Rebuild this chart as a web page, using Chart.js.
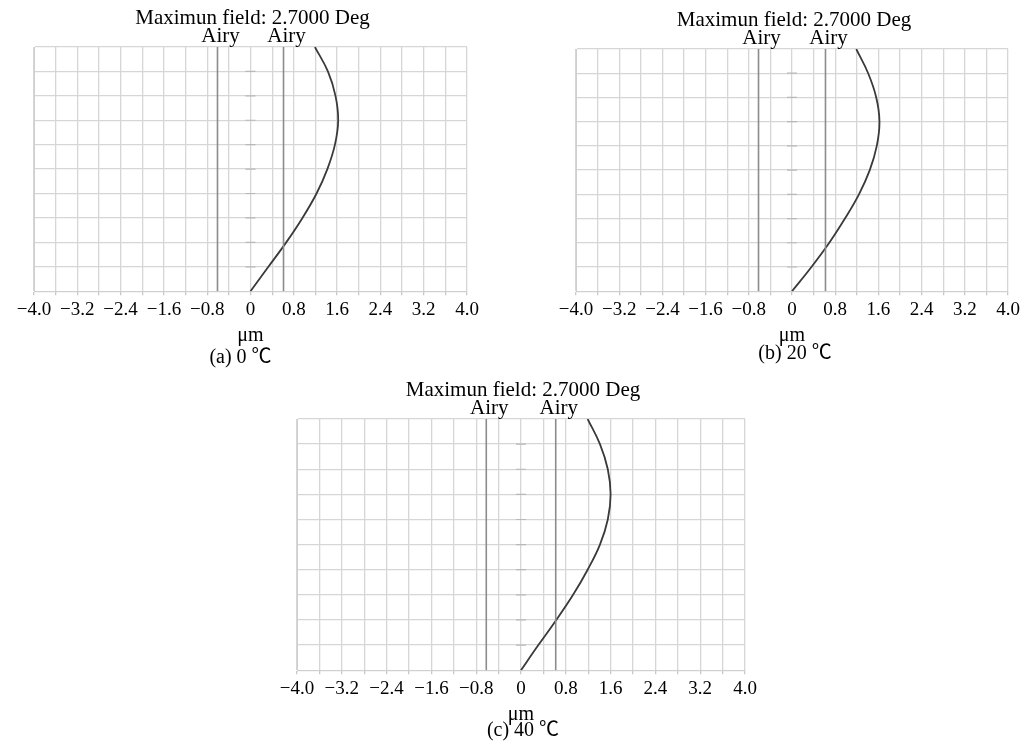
<!DOCTYPE html>
<html>
<head>
<meta charset="utf-8">
<script src="https://cdn.jsdelivr.net/npm/chart.js@4.4.1/dist/chart.umd.min.js"></script>
<style>
  body { margin: 0; background: #fff; }
  canvas { position: absolute; }
</style>
</head>
<body>
<canvas id="chartA" width="500" height="372" style="left:0px;top:0px"></canvas>
<canvas id="chartB" width="491" height="372" style="left:541px;top:0px"></canvas>
<canvas id="chartC" width="520" height="380" style="left:262px;top:372px"></canvas>
<script>
// relative field (y) and focus shift in um (x)
const fieldY = [0, 0.1, 0.2, 0.3, 0.4, 0.5, 0.6, 0.7, 0.8, 0.9, 1.0];
const curveA = [0, 0.33, 0.66, 0.96, 1.22, 1.42, 1.56, 1.62, 1.57, 1.43, 1.19];
const curveB = [0, 0.36, 0.69, 0.98, 1.24, 1.44, 1.57, 1.62, 1.56, 1.41, 1.19];
const curveC = [0, 0.31, 0.63, 0.93, 1.19, 1.41, 1.55, 1.60, 1.55, 1.41, 1.19];
// airy disk radius (um)
const airyA = 0.61;
const airyB = 0.62;
const airyC = 0.62;
// small marks on the zero line
const zeroMarks = [0.1, 0.2, 0.3, 0.4, 0.5, 0.6, 0.7, 0.8, 0.9];
const titleText = "Maximun field: 2.7000 Deg";
const airyLabel = "Airy";
const axisLabel = "μm";
const captions = ["(a) 0 ℃", "(b) 20 ℃", "(c) 40 ℃"];

const serif = "'Liberation Serif', 'Times New Roman', serif";
const capFont = "'Liberation Serif', 'Noto Sans CJK SC', serif";

function fmtTick(v) {
  v = Math.round(v * 10) / 10;
  if (v === 0) return "0";
  return (v < 0 ? "\u2212" : "") + Math.abs(v).toFixed(1);
}

// draws title, Airy labels and caption
const textPlugin = {
  id: "texts",
  afterDraw(chart, args, opts) {
    const { ctx, chartArea, scales } = chart;
    const x = scales.x;
    ctx.save();
    ctx.fillStyle = "#000";
    ctx.textAlign = "center";
    ctx.textBaseline = "middle";
    ctx.font = "21px " + serif;
    ctx.fillText(titleText, (chartArea.left + chartArea.right) / 2 + 2, chartArea.top - 29);
    ctx.fillText(airyLabel, x.getPixelForValue(-opts.airy) + 3, chartArea.top - 11);
    ctx.fillText(airyLabel, x.getPixelForValue(opts.airy) + 3, chartArea.top - 11);
    ctx.font = "20px " + capFont;
    ctx.fillText(opts.caption, (chartArea.left + chartArea.right) / 2 + opts.capDx, chartArea.bottom + opts.capDy);
    ctx.restore();
  }
};

function build(id, curve, airy, caption, pad, capDx, capDy) {
  const pts = curve.map((v, i) => ({ x: v, y: fieldY[i] }));
  new Chart(document.getElementById(id), {
    type: "line",
    data: {
      datasets: [
        {
          data: zeroMarks.map(y => ({ x: 0, y: y })),
          showLine: false,
          pointStyle: "line",
          pointRadius: 5,
          borderColor: "#b8b8b8",
          borderWidth: 1.2
        },
        {
          data: [{ x: -airy, y: 0 }, { x: -airy, y: 1 }],
          borderColor: "#8c8c8c",
          borderWidth: 1.6,
          pointRadius: 0
        },
        {
          data: [{ x: airy, y: 0 }, { x: airy, y: 1 }],
          borderColor: "#8c8c8c",
          borderWidth: 1.6,
          pointRadius: 0
        },
        {
          data: pts,
          borderColor: "#3a3a3a",
          borderWidth: 1.8,
          pointRadius: 0,
          tension: 0.4
        }
      ]
    },
    options: {
      indexAxis: "y",
      responsive: false,
      animation: false,
      layout: { padding: pad },
      plugins: {
        legend: { display: false },
        tooltip: { enabled: false },
        texts: { airy: airy, caption: caption, capDx: capDx, capDy: capDy }
      },
      scales: {
        x: {
          type: "linear",
          position: "bottom",
          min: -4,
          max: 4,
          grid: { color: "#d6d6d6", lineWidth: 1.3, tickLength: 4, tickColor: "#c8c8c8" },
          border: { color: "#cfcfcf" },
          ticks: {
            stepSize: 0.4,
            autoSkip: false,
            maxRotation: 0,
            padding: 3,
            color: "#000",
            font: { family: serif, size: 19 },
            callback: (v, i) => (i % 2 === 0 ? fmtTick(v) : "")
          },
          title: {
            display: true,
            text: axisLabel,
            color: "#000",
            font: { family: serif, size: 20 },
            padding: { top: 0, bottom: 0 }
          }
        },
        y: {
          type: "linear",
          position: "left",
          min: 0,
          max: 1,
          grid: { color: "#d6d6d6", lineWidth: 1.3, drawTicks: false },
          border: { color: "#cfcfcf" },
          ticks: { display: false, stepSize: 0.1 }
        }
      }
    },
    plugins: [textPlugin]
  });
}

build("chartA", curveA, airyA, captions[0], { left: 34, right: 33, top: 47, bottom: 24 }, -10, 67);
build("chartB", curveB, airyB, captions[1], { left: 35, right: 24, top: 49, bottom: 24 }, 3, 63);
build("chartC", curveC, airyC, captions[2], { left: 35, right: 37, top: 47, bottom: 25 }, 2, 61);
</script>
</body>
</html>
